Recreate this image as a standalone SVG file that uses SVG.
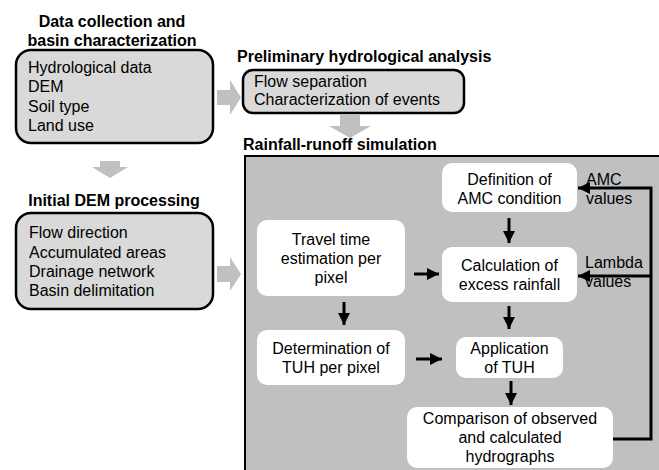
<svg xmlns="http://www.w3.org/2000/svg" width="659" height="470" viewBox="0 0 659 470">
<defs>
<style>
text{font-family:"Liberation Sans",Arial,sans-serif;font-size:16px;fill:#000}
.b{font-weight:bold}
.c{text-anchor:middle}
.gbox{fill:#d9d9d9;stroke:#000;stroke-width:2.5}
.wbox{fill:#fff;stroke:none}
.garrow{fill:#c0c0c0;stroke:none}
.ln{fill:none;stroke:#000;stroke-width:3}
</style>
<marker id="ah" viewBox="0 0 10 10" refX="10" refY="5" markerWidth="4" markerHeight="4" markerUnits="strokeWidth" orient="auto">
<path d="M0,0 L10,5 L0,10 Z" fill="#000"/>
</marker>
</defs>
<rect width="659" height="470" fill="#fff"/>

<g id="title-data">
<text class="b c" x="112" y="27">Data collection and</text>
<text class="b c" x="112" y="46">basin characterization</text>
</g>
<g id="node-data">
<rect class="gbox" x="16" y="50" width="197" height="93" rx="15"/>
<text x="28" y="73">Hydrological data</text>
<text x="28" y="92">DEM</text>
<text x="28" y="112">Soil type</text>
<text x="28" y="131">Land use</text>
</g>

<g id="title-prelim">
<text class="b" x="237" y="62">Preliminary hydrological analysis</text>
</g>
<g id="node-prelim">
<rect class="gbox" x="243" y="70" width="221" height="43" rx="10"/>
<text x="254" y="87">Flow separation</text>
<text x="254" y="105">Characterization of events</text>
</g>

<g id="title-dem">
<text class="b c" x="114" y="206">Initial DEM processing</text>
</g>
<g id="node-dem">
<rect class="gbox" x="16" y="213" width="197" height="96" rx="15"/>
<text x="29" y="238">Flow direction</text>
<text x="29" y="258">Accumulated areas</text>
<text x="29" y="277">Drainage network</text>
<text x="29" y="296">Basin delimitation</text>
</g>

<g id="title-sim">
<text class="b" x="243" y="150">Rainfall-runoff simulation</text>
</g>
<g id="node-sim">
<rect x="245" y="156" width="460" height="360" fill="#c0c0c0" stroke="#000" stroke-width="2"/>
</g>

<g id="node-amc">
<rect class="wbox" x="442" y="163" width="135" height="49" rx="10"/>
<text class="c" x="509.5" y="185">Definition of</text>
<text class="c" x="509.5" y="204">AMC condition</text>
</g>
<g id="node-travel">
<rect class="wbox" x="257" y="220" width="148" height="76" rx="10"/>
<text class="c" x="331" y="245">Travel time</text>
<text class="c" x="331" y="264">estimation per</text>
<text class="c" x="331" y="283">pixel</text>
</g>
<g id="node-calc">
<rect class="wbox" x="442" y="247" width="135" height="55" rx="10"/>
<text class="c" x="509.5" y="271">Calculation of</text>
<text class="c" x="509.5" y="290">excess rainfall</text>
</g>
<g id="node-det">
<rect class="wbox" x="257" y="330" width="148" height="55" rx="10"/>
<text class="c" x="331" y="354">Determination of</text>
<text class="c" x="331" y="373">TUH per pixel</text>
</g>
<g id="node-app">
<rect class="wbox" x="456" y="337" width="107" height="41" rx="10"/>
<text class="c" x="509.5" y="354">Application</text>
<text class="c" x="509.5" y="373">of TUH</text>
</g>
<g id="node-comp">
<rect class="wbox" x="407" y="407" width="206" height="61" rx="10"/>
<text class="c" x="510" y="424">Comparison of observed</text>
<text class="c" x="510" y="443">and calculated</text>
<text class="c" x="510" y="462">hydrographs</text>
</g>

<g id="labels">
<text x="586" y="185">AMC</text>
<text x="586" y="204">values</text>
<text x="585" y="268">Lambda</text>
<text x="585" y="287">values</text>
</g>

<g id="connectors">
<path class="garrow" d="M217,90 L230,90 L230,80 L241,97.5 L230,115 L230,105 L217,105 Z"/>
<path class="garrow" d="M217,266 L230,266 L230,257 L241,274 L230,291 L230,282 L217,282 Z"/>
<path class="garrow" d="M100,161 L120,161 L120,167 L128,167 L110,178 L92,167 L100,167 Z"/>
<path class="garrow" d="M340,115 L360,115 L360,126 L371,126 L350,138 L329,126 L340,126 Z"/>
<line class="ln" x1="509" y1="218" x2="509" y2="243" marker-end="url(#ah)"/>
<line class="ln" x1="414" y1="274" x2="439" y2="274" marker-end="url(#ah)"/>
<line class="ln" x1="344" y1="302" x2="344" y2="325" marker-end="url(#ah)"/>
<line class="ln" x1="509" y1="306" x2="509" y2="329" marker-end="url(#ah)"/>
<line class="ln" x1="416" y1="359" x2="442" y2="359" marker-end="url(#ah)"/>
<line class="ln" x1="511" y1="381" x2="511" y2="405" marker-end="url(#ah)"/>
<polyline class="ln" points="613,439 651,439 651,188 578,188" marker-end="url(#ah)"/>
<line class="ln" x1="651" y1="276" x2="578" y2="276" marker-end="url(#ah)"/>
</g>
</svg>
